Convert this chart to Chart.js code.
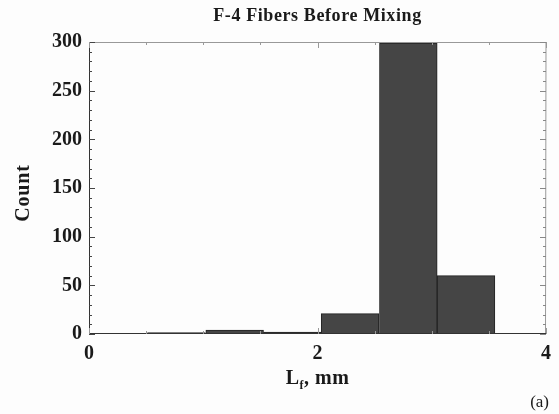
<!DOCTYPE html>
<html>
<head>
<meta charset="utf-8">
<script src="https://cdn.jsdelivr.net/npm/chart.js@4/dist/chart.umd.min.js"></script>
<style>
  html, body { margin: 0; padding: 0; background: #fdfdfd; }
  #wrap { width: 559px; height: 414px; position: relative; }
</style>
</head>
<body>
<div id="wrap"><canvas id="hist"></canvas></div>
<script>
// bin edges (mm) and counts
const binEdges = [0.51, 1.02, 1.53, 2.03, 2.54, 3.05, 3.55];
const counts = [1.5, 4, 2, 21, 299, 60];
const xTicks = [0, 2, 4];
const yTicks = [0, 50, 100, 150, 200, 250, 300];

const serif = "'Liberation Serif', 'DejaVu Serif', serif";
const ink = "#1a1a1a";

const points = counts.map((c, i) => ({ x: (binEdges[i] + binEdges[i + 1]) / 2, y: c }));

// frame, inward ticks and text labels
const decor = {
	id: "decor",
	afterDatasetsDraw(chart) {
		const { ctx, chartArea: a, scales } = chart;
		const xs = scales.x, ys = scales.y;
		ctx.save();

		// frame
		ctx.lineWidth = 1;
		ctx.strokeStyle = "#999";
		ctx.beginPath();
		ctx.moveTo(a.left, a.top + 0.5);
		ctx.lineTo(a.right, a.top + 0.5);
		ctx.lineTo(a.right - 0.5, a.bottom);
		ctx.stroke();
		ctx.strokeStyle = "#333";
		ctx.beginPath();
		ctx.moveTo(a.left + 0.5, a.top);
		ctx.lineTo(a.left + 0.5, a.bottom - 0.5);
		ctx.lineTo(a.right, a.bottom - 0.5);
		ctx.stroke();

		// y ticks, left and right
		for (let v = 0; v <= 300; v += 10) {
			const py = Math.round(ys.getPixelForValue(v)) + 0.5;
			const len = v % 50 === 0 ? 6 : 3;
			ctx.strokeStyle = "#444";
			ctx.beginPath();
			ctx.moveTo(a.left, py);
			ctx.lineTo(a.left + len, py);
			ctx.stroke();
			ctx.strokeStyle = "#888";
			ctx.beginPath();
			ctx.moveTo(a.right, py);
			ctx.lineTo(a.right - len, py);
			ctx.stroke();
		}
		// x ticks, bottom and top
		for (let v = 0; v <= 4.001; v += 0.5) {
			const px = Math.round(xs.getPixelForValue(v)) + 0.5;
			const len = Math.abs(v % 2) < 1e-6 ? 6 : 3;
			ctx.strokeStyle = "#999";
			ctx.beginPath();
			ctx.moveTo(px, a.top);
			ctx.lineTo(px, a.top + len);
			ctx.stroke();
			ctx.beginPath();
			ctx.moveTo(px, a.bottom);
			ctx.lineTo(px, a.bottom - len);
			ctx.stroke();
		}

		const cx = (a.left + a.right) / 2;
		ctx.fillStyle = ink;
		ctx.textBaseline = "alphabetic";

		// title
		ctx.font = "bold 18px " + serif;
		ctx.letterSpacing = "0.6px";
		ctx.textAlign = "center";
		ctx.fillText("F-4 Fibers Before Mixing", cx, 21);

		// x title with subscript
		const big = "bold 20px " + serif, small = "bold 12px " + serif;
		ctx.letterSpacing = "0.5px";
		ctx.font = big;
		const wL = ctx.measureText("L").width;
		const wRest = ctx.measureText(", mm").width;
		ctx.font = small;
		const wSub = ctx.measureText("f").width;
		let x0 = cx - (wL + wSub + wRest) / 2;
		ctx.textAlign = "left";
		ctx.font = big;
		ctx.fillText("L", x0, 384);
		ctx.font = small;
		ctx.fillText("f", x0 + wL, 389);
		ctx.font = big;
		ctx.fillText(", mm", x0 + wL + wSub, 384);

		// y title
		ctx.save();
		ctx.translate(29, (a.top + a.bottom) / 2 + 5);
		ctx.rotate(-Math.PI / 2);
		ctx.textAlign = "center";
		ctx.font = "bold 20px " + serif;
		ctx.letterSpacing = "0.8px";
		ctx.fillText("Count", 0, 0);
		ctx.restore();

		// panel tag
		ctx.letterSpacing = "0px";
		ctx.font = "17px " + serif;
		ctx.textAlign = "right";
		ctx.fillText("(a)", 549, 407);

		ctx.restore();
	},
};

new Chart(document.getElementById("hist"), {
	type: "bar",
	data: {
		datasets: [
			{
				data: points,
				backgroundColor: "#454545",
				borderColor: "#222",
				borderWidth: 1,
				barPercentage: 1,
				categoryPercentage: 1,
			},
		],
	},
	options: {
		responsive: true,
		maintainAspectRatio: false,
		animation: false,
		layout: { padding: { top: 42, right: 10, left: 0, bottom: 0 } },
		plugins: {
			legend: { display: false },
			tooltip: { enabled: false },
		},
		scales: {
			x: {
				type: "linear",
				min: 0,
				max: 4,
				offset: false,
				afterFit: (s) => { s.height = 80; },
				afterBuildTicks: (s) => { s.ticks = xTicks.map((v) => ({ value: v })); },
				grid: { display: false, drawTicks: false, offset: false },
				border: { display: false },
				ticks: {
					color: ink,
					padding: 8,
					maxRotation: 0,
					font: { family: serif, size: 20, weight: "bold" },
				},
			},
			y: {
				min: 0,
				max: 300,
				afterFit: (s) => { s.width = 89; },
				afterBuildTicks: (s) => { s.ticks = yTicks.map((v) => ({ value: v })); },
				grid: { display: false, drawTicks: false },
				border: { display: false },
				ticks: {
					color: ink,
					padding: 7,
					font: { family: serif, size: 20, weight: "bold" },
				},
			},
		},
	},
	plugins: [decor],
});
</script>
</body>
</html>
